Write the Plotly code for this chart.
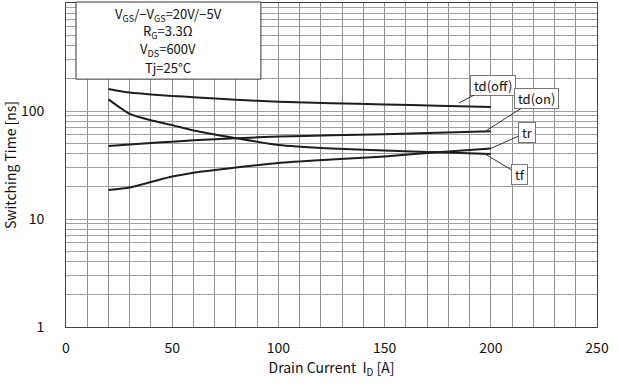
import math
import plotly.graph_objects as go

current = [20, 30, 40, 50, 60, 80, 100, 125, 150, 175, 200]
td_off = [160, 148, 142, 138, 134, 127, 122, 118, 115, 112, 109]
td_on = [47.4, 49, 50.5, 52, 53.5, 56, 58, 59.5, 61, 63, 65]
t_f = [128, 94, 82, 74, 66, 56, 48.5, 45, 43, 41.5, 40]
t_r = [18.6, 19.6, 22, 24.7, 26.8, 30, 33, 35.5, 38, 41.5, 45]

x_ticks = list(range(0, 251, 10))
x_labels = [str(v) if v % 50 == 0 else "" for v in x_ticks]
y_ticks = [m * 10 ** e for e in range(0, 3) for m in range(1, 10)] + [1000]
y_labels = [str(int(v)) if v in (1, 10, 100, 1000) else "" for v in y_ticks]
cond_lines = ["V<sub>GS</sub>/−V<sub>GS</sub>=20V/−5V", "R<sub>G</sub>=3.3Ω",
              "V<sub>DS</sub>=600V", "Tj=25°C"]

FONT = "Noto Sans CJK JP"
fig = go.Figure()
for name, ys in [("td(off)", td_off), ("td(on)", td_on), ("tf", t_f), ("tr", t_r)]:
    fig.add_trace(go.Scatter(x=current, y=ys, mode="lines", name=name,
                             line=dict(color="#1e1e1e", width=2, shape="spline", smoothing=0.6),
                             showlegend=False))

labels = [("td(off)", 185, 118.5, 34, -18), ("td(on)", 198, 66, 50, -32),
          ("tr", 200, 45, 36, -16), ("tf", 197, 40.3, 35, 21)]
for txt, x, y, ax, ay in labels:
    fig.add_annotation(x=x, y=math.log10(y), xref="x", yref="y", text=" " + txt + " ",
                       showarrow=True, arrowhead=0, arrowwidth=1, arrowcolor="#333",
                       ax=ax, ay=ay, bgcolor="white", bordercolor="#777", borderwidth=1,
                       borderpad=0, font=dict(family=FONT, size=13, color="#111"))

# conditions box
fig.add_shape(type="rect", xref="paper", yref="paper", x0=0.0188, x1=0.367, y0=0.765, y1=1.003,
              fillcolor="white", line=dict(color="#333", width=1), layer="above")
for i, line in enumerate(cond_lines):
    fig.add_annotation(xref="paper", yref="paper", x=0.193, y=0.966 - i * 0.0555,
                       xanchor="center", yanchor="middle", text=line, showarrow=False,
                       font=dict(family=FONT, size=13, color="#111"))

fig.update_layout(
    width=619, height=386, margin=dict(l=66, r=22, t=3, b=59),
    paper_bgcolor="white", plot_bgcolor="white",
    font=dict(family=FONT, size=14, color="#111"),
    xaxis=dict(range=[0, 250], tickvals=x_ticks, ticktext=x_labels, showgrid=True,
               gridcolor="#8f8f8f", gridwidth=1, showline=True, linecolor="#444", mirror=True,
               ticks="", zeroline=False, ticklabelstandoff=8,
               title=dict(text="Drain Current  I<sub>D</sub> [A]", standoff=6,
                          font=dict(family=FONT, size=14))),
    yaxis=dict(type="log", range=[0, 3], tickvals=y_ticks, ticktext=y_labels, showgrid=True,
               gridcolor="#a0a0a0", gridwidth=1, showline=True, linecolor="#444", mirror=True,
               ticks="", zeroline=False, ticklabelstandoff=18,
               title=dict(text="Switching Time [ns]", standoff=4,
                          font=dict(family=FONT, size=14))),
)
fig.write_html("out.html")
